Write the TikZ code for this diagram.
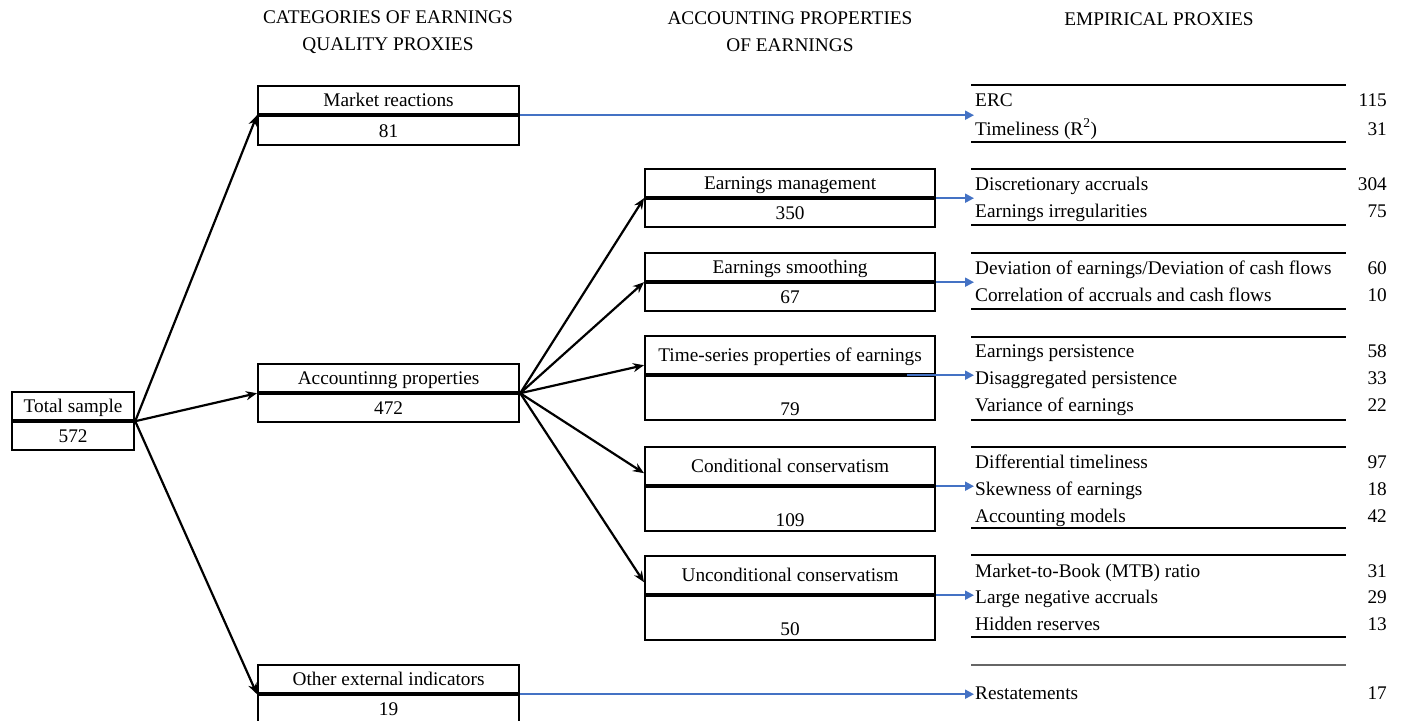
\documentclass[tikz,border=0pt]{standalone}
\usepackage{fontspec}
\setmainfont{Liberation Serif}
\usepackage{xcolor}
\usepackage{tikz}
\usetikzlibrary{positioning,calc,arrows.meta}
\definecolor{proxyblue}{RGB}{68,114,196}

\begin{document}
\begin{tikzpicture}[
					x=1pt, y=-1pt,
					every node/.style={font=\fontsize{19.3}{27}\selectfont},
					cell/.style={ % one row of a box
						draw, line width=2.2pt,
						minimum width=#1,
						inner sep=0pt,
						anchor=north west,
						text height=13pt, text depth=0pt
					},
					proxy/.style={anchor=west, inner sep=0pt, text height=13pt, text depth=0pt},
					numtxt/.style={anchor=east, inner sep=0pt, text height=13pt, text depth=0pt},
					rule_top/.style={line width=1.4pt},
					rule_bot/.style={line width=2pt},
					cat_arrow/.style={ % black arrows between boxes
						->, >={Stealth[length=11pt,width=9pt]},
						line width=2.2pt
					},
					blue_arrow/.style={ % blue arrows to the proxies
						->, >={Triangle[length=9pt,width=9pt]},
						proxyblue, line width=2pt
					}
					]
					\useasboundingbox (0,0) rectangle (1405,720);
					
					% ================= HEADERS =================
					\node[align=center] (h-cat) at (388,32) {CATEGORIES OF EARNINGS\\QUALITY PROXIES};
					\node[align=center] (h-acc) at (790,32) {ACCOUNTING PROPERTIES\\OF EARNINGS};
					\node (h-emp) at (1159,19) {EMPIRICAL PROXIES};
					
					% ================= COLUMN 1 =================
					\node[cell=122pt, minimum height=28pt] (tot) at (11,391) {Total sample};
					\node[cell=122pt, minimum height=28pt] (tot-n) at (tot.south west) {572};
					
					% ================= COLUMN 2 =================
					\node[cell=261pt, minimum height=28pt] (mkt) at (257,85) {Market reactions};
					\node[cell=261pt, minimum height=29pt] (mkt-n) at (mkt.south west) {81};
					
					\node[cell=261pt, minimum height=28pt] (acc) at (257,363) {Accountinng properties};
					\node[cell=261pt, minimum height=28pt] (acc-n) at (acc.south west) {472};
					
					\node[cell=261pt, minimum height=28pt] (oth) at (257,664) {Other external indicators};
					\node[cell=261pt, minimum height=27pt] (oth-n) at (oth.south west) {19};
					
					% ================= COLUMN 3 =================
					% two-row boxes
					\foreach \nm/\top/\txt/\num in {em/168/Earnings management/350, sm/252/Earnings smoothing/67} {
						\node[cell=290pt, minimum height=28pt] (\nm) at (644,\top) {\txt};
						\node[cell=290pt, minimum height=28pt] (\nm-n) at (\nm.south west) {\num};
					}
					% three-row boxes (number sits low)
					\foreach \nm/\top/\txt/\num in {ts/335/Time-series properties of earnings/79,
						cc/446/Conditional conservatism/109, uc/555/Unconditional conservatism/50} {
						\node[cell=290pt, minimum height=38pt] (\nm) at (644,\top) {\txt};
						\node[cell=290pt, minimum height=44pt, text height=35pt] (\nm-n) at (\nm.south west) {\num};
					}
					
					% ================= COLUMN 4 =================
					\foreach \top/\bot in {85/142, 169/225, 253/309, 337/420, 447/528, 555/637} {
						\draw[rule_top] (971,\top) -- (1346,\top);
						\draw[rule_bot] (971,\bot) -- (1346,\bot);
					}
					\draw[rule_top, black!60] (971,665) -- (1346,665);
					
					\foreach \y/\txt/\num [count=\k] in {
						100/ERC/115, 129/Timeliness (R\textsuperscript{2})/31,
						184/Discretionary accruals/304, 211/Earnings irregularities/75,
						268/{Deviation of earnings/Deviation of cash flows}/60, 295/Correlation of accruals and cash flows/10,
						351/Earnings persistence/58, 378/Disaggregated persistence/33, 405/Variance of earnings/22,
						462/Differential timeliness/97, 489/Skewness of earnings/18, 516/Accounting models/42,
						571/Market-to-Book (MTB) ratio/31, 597/Large negative accruals/29, 624/Hidden reserves/13,
						693/Restatements/17} {
						\node[proxy] (px\k) at (975,\y) {\txt};
						\node[numtxt] (pn\k) at (1387,\y) {\num};
					}
					
					% ================= ARROWS =================
					\draw[cat_arrow] (tot.south east) -- (mkt.south west);
					\draw[cat_arrow] (tot.south east) -- (acc.south west);
					\draw[cat_arrow] (tot.south east) -- (oth.south west);
					
					\draw[cat_arrow] (acc.south east) -- (em.south west);
					\draw[cat_arrow] (acc.south east) -- (sm.south west);
					\draw[cat_arrow] (acc.south east) -- ([yshift=10pt]ts.south west);
					\draw[cat_arrow] (acc.south east) -- ([yshift=13pt]cc.south west);
					\draw[cat_arrow] (acc.south east) -- ([yshift=13pt]uc.south west);
					
					% blue arrows end at the proxy column
					\coordinate (tip) at (974,0);
					\draw[blue_arrow] (mkt.south east) -- (mkt.south east -| tip);
					\draw[blue_arrow] (em.south east) -- (em.south east -| tip);
					\draw[blue_arrow] (sm.south east) -- (sm.south east -| tip);
					\draw[blue_arrow] ($(ts.south east)+(-29,0)$) -- (ts.south east -| tip);
					\draw[blue_arrow] (cc.south east) -- (cc.south east -| tip);
					\draw[blue_arrow] (uc.south east) -- (uc.south east -| tip);
					\draw[blue_arrow] (oth.south east) -- (oth.south east -| tip);
					
				\end{tikzpicture}
\end{document}
